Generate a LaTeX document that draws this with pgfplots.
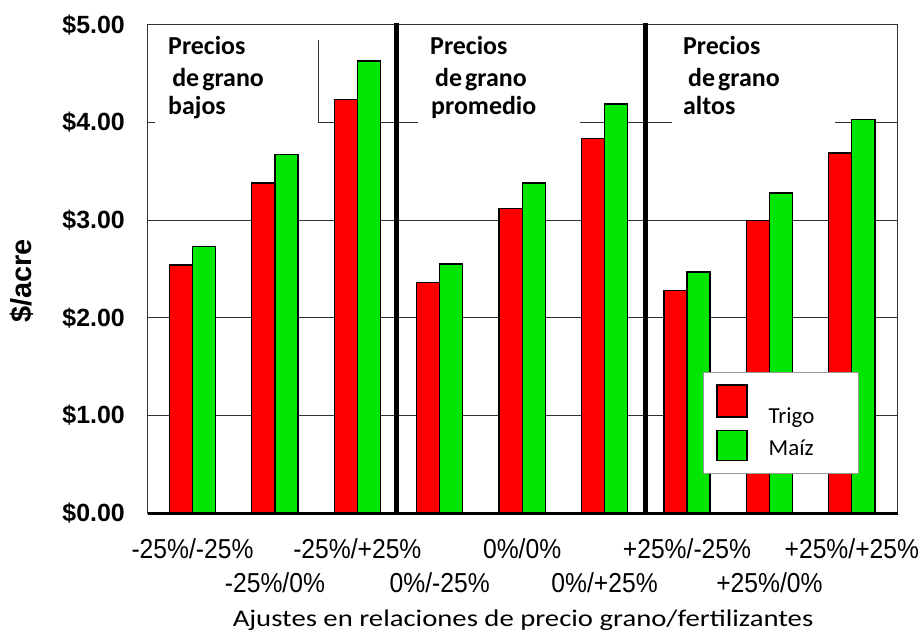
\documentclass[border=0pt]{standalone}
\usepackage{fontspec}
\setmainfont{Carlito}
\newfontfamily\arialfont{Liberation Sans}
\newfontfamily\arialnarrow{Liberation Sans}[FakeStretch=0.9]
\newfontfamily\xlabfont{Carlito}[FakeStretch=1.2]
\usepackage{pgfplots}
\pgfplotsset{compat=1.18}
\definecolor{trigo}{RGB}{255,0,0}
\definecolor{maiz}{RGB}{0,230,0}
\definecolor{gridc}{RGB}{50,50,50}
\begin{document}
\begin{tikzpicture}
\begin{axis}[
 at={(0,0)}, anchor=south west,
 scale only axis, width=750bp, height=488bp,
 xmin=-0.54, xmax=8.56, ymin=0, ymax=5,
 clip=false,
 ybar=0pt, bar width=0.28,
 axis line style={gridc, line width=1bp},
 ymajorgrids, grid style={gridc, line width=1bp},
 major tick length=0pt,
 ytick={0,1,2,3,4,5},
 yticklabels={\$0.00,\$1.00,\$2.00,\$3.00,\$4.00,\$5.00},
 yticklabel style={font=\arialfont\bfseries\fontsize{25}{30}\selectfont, anchor=east, inner sep=0pt, xshift=-23bp},
 xtick={0,2,4,6,8},
 xticklabels={-25\%/-25\%, -25\%/+25\%, 0\%/0\%, +25\%/-25\%, +25\%/+25\%},
 extra x ticks={1,3,5,7},
 extra x tick labels={-25\%/0\%, 0\%/-25\%, 0\%/+25\%, +25\%/0\%},
 extra x tick style={grid=none, xticklabel style={yshift=-34bp}},
 xticklabel style={font=\arialnarrow\fontsize{27.5}{32}\selectfont, anchor=north, inner sep=0pt, yshift=-25bp},
 xlabel={Ajustes en relaciones de precio grano/fertilizantes},
 xlabel style={font=\xlabfont\fontsize{24}{28}\selectfont, at={(axis description cs:0.5,-0.2336)}, anchor=base},
 ylabel={\$/acre},
 ylabel style={font=\arialfont\bfseries\fontsize{29}{34}\selectfont, at={(axis description cs:-0.168,0.475)}, anchor=center},
 legend style={at={(axis description cs:0.740,0.289)}, anchor=north west, draw=gray!80, line width=0.8bp, fill=white, inner xsep=13bp, inner ysep=12bp, font=\fontsize{23}{28}\selectfont, row sep=4bp, nodes={inner sep=1bp, text width=76bp, align=left}, /tikz/every odd column/.append style={column sep=20bp}},
 legend cell align=left,
]
\addplot[fill=trigo, draw=black, line width=1.3bp,
  legend image code/.code={\draw[fill=trigo,draw=black,line width=1.3bp] (0bp,-1bp) rectangle (30bp,31bp);}]
  coordinates {(0,2.54) (1,3.38) (2,4.24) (3,2.36) (4,3.12) (5,3.84) (6,2.28) (7,3.00) (8,3.69)};
\addlegendentry{Trigo}
\addplot[fill=maiz, draw=black, line width=1.3bp,
  legend image code/.code={\draw[fill=maiz,draw=black,line width=1.3bp] (0bp,-12bp) rectangle (30bp,18bp);}]
  coordinates {(0,2.73) (1,3.67) (2,4.63) (3,2.55) (4,3.38) (5,4.19) (6,2.47) (7,3.28) (8,4.03)};
\addlegendentry{Maíz}
% white boxes behind the group titles
\fill[white] (axis cs:-0.455,3.93) rectangle (axis cs:1.52,4.96);
\fill[white] (axis cs:2.736,3.93) rectangle (axis cs:4.70,4.96);
\fill[white] (axis cs:5.818,3.93) rectangle (axis cs:7.795,4.96);
\draw[gridc, line width=1bp] (axis cs:1.523,4.0) -- (axis cs:1.523,4.85);
% axis base and separators
\draw[black, line width=3bp] (axis cs:-0.54,0) -- (axis cs:8.56,0);
\draw[black, line width=5bp] (axis cs:2.48,0) -- (axis cs:2.48,5.02);
\draw[black, line width=5bp] (axis cs:5.50,0) -- (axis cs:5.50,5.02);
% group titles
\begin{scope}[every node/.style={anchor=base west, inner sep=0pt, font=\bfseries\fontsize{26}{30}\selectfont}]
\node at (axis cs:-0.297,4.693) {Precios};
\node at (axis cs:-0.248,4.365) {de\hspace{0.12em}grano};
\node at (axis cs:-0.297,4.078) {bajos};
\node at (axis cs:2.882,4.693) {Precios};
\node at (axis cs:2.942,4.365) {de\hspace{0.12em}grano};
\node at (axis cs:2.894,4.078) {promedio};
\node at (axis cs:5.951,4.693) {Precios};
\node at (axis cs:6.012,4.365) {de\hspace{0.12em}grano};
\node at (axis cs:5.951,4.078) {altos};
\end{scope}
\end{axis}
\pgfresetboundingbox
\path[use as bounding box] (-148bp,-121bp) rectangle (774bp,513bp);
\end{tikzpicture}
\end{document}
